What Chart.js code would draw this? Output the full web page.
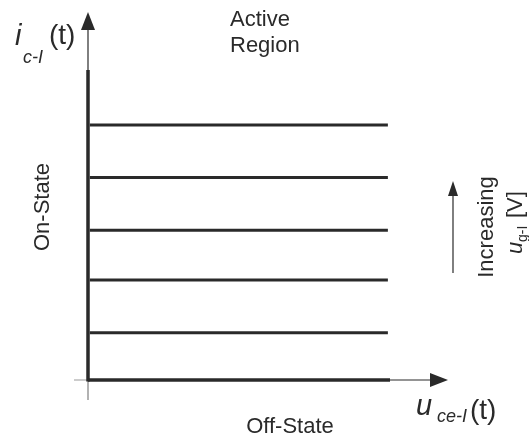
<!DOCTYPE html>
<html>
<head>
<meta charset="utf-8">
<script src="https://cdn.jsdelivr.net/npm/chart.js@4"></script>
<style>
  body { margin: 0; background: #fff; }
  #wrap { width: 529px; height: 439px; }
</style>
</head>
<body>
<div id="wrap"><canvas id="iv-chart"></canvas></div>
<script>
// collector current levels, one line per gate voltage (lowest first)
const gateLevels = [0.9, 1.9, 2.85, 3.85, 4.85];
// u_ce range the lines cover
const uceRange = [0.05, 8.33];
const regionLabels = ['Active', 'Region'];

const FONT = '"Liberation Sans", Arial, Helvetica, sans-serif';
const INK = '#2a2a2a';

const datasets = gateLevels.map(v => ({
    data: [{ x: uceRange[0], y: v }, { x: uceRange[1], y: v }],
    borderColor: INK,
    borderWidth: 3,
    pointRadius: 0,
    fill: false
}));

function line(ctx, x1, y1, x2, y2, w, col) {
    ctx.beginPath();
    ctx.lineWidth = w;
    ctx.strokeStyle = col;
    ctx.moveTo(x1, y1);
    ctx.lineTo(x2, y2);
    ctx.stroke();
}

function tri(ctx, pts) {
    ctx.beginPath();
    ctx.moveTo(pts[0][0], pts[0][1]);
    ctx.lineTo(pts[1][0], pts[1][1]);
    ctx.lineTo(pts[2][0], pts[2][1]);
    ctx.closePath();
    ctx.fillStyle = INK;
    ctx.fill();
}

function txt(ctx, s, x, y, size, italic, align) {
    ctx.font = (italic ? 'italic ' : '') + size + 'px ' + FONT;
    ctx.textAlign = align || 'left';
    ctx.fillStyle = INK;
    ctx.fillText(s, x, y);
}

const axesPlugin = {
    id: 'axesPlugin',
    afterDraw(chart) {
        const ctx = chart.ctx, a = chart.chartArea;
        const x0 = chart.scales.x.getPixelForValue(0);
        const y0 = chart.scales.y.getPixelForValue(0);
        ctx.save();

        // little stubs past the origin
        line(ctx, x0 - 14, y0, x0, y0, 1, '#999');
        line(ctx, x0, y0, x0, y0 + 20, 1.5, '#999');

        // vertical axis
        line(ctx, x0, 70, x0, y0 + 1.5, 3.5, INK);
        line(ctx, x0, a.top + 16, x0, 70, 1.2, INK);
        tri(ctx, [[x0, a.top], [x0 - 7, a.top + 18], [x0 + 7, a.top + 18]]);

        // horizontal axis
        line(ctx, x0, y0, 390, y0, 3.5, INK);
        line(ctx, 390, y0, a.right - 16, y0, 1.2, INK);
        tri(ctx, [[a.right, y0], [a.right - 18, y0 - 7], [a.right - 18, y0 + 7]]);

        // increasing-gate arrow
        line(ctx, 453, 273, 453, 194, 1.2, INK);
        tri(ctx, [[453, 181], [448, 196], [458, 196]]);

        ctx.textBaseline = 'alphabetic';
        txt(ctx, regionLabels[0], 230, 26, 22, false);
        txt(ctx, regionLabels[1], 230, 52, 22, false);
        txt(ctx, 'Off-State', 290, 433, 22, false, 'center');

        // i_c-I(t)
        txt(ctx, 'i', 15, 45, 29, true);
        txt(ctx, 'c-I', 23, 63, 18, true);
        txt(ctx, '(t)', 49, 44, 28, false);

        // u_ce-I(t)
        txt(ctx, 'u', 416, 415, 29, true);
        txt(ctx, 'ce-I', 437, 422, 18, true);
        txt(ctx, '(t)', 470, 419, 28, false);

        // rotated labels
        ctx.save();
        ctx.translate(49, 207);
        ctx.rotate(-Math.PI / 2);
        txt(ctx, 'On-State', 0, 0, 22, false, 'center');
        ctx.restore();

        ctx.save();
        ctx.translate(493, 227);
        ctx.rotate(-Math.PI / 2);
        txt(ctx, 'Increasing', 0, 0, 22, false, 'center');
        ctx.restore();

        ctx.save();
        ctx.translate(522, 254);
        ctx.rotate(-Math.PI / 2);
        txt(ctx, 'u', 0, 0, 22, true);
        txt(ctx, 'g-I', 12, 5, 14, false);
        txt(ctx, '[V]', 36, 0, 22, false);
        ctx.restore();

        ctx.restore();
    }
};

new Chart(document.getElementById('iv-chart'), {
    type: 'line',
    data: { datasets: datasets },
    options: {
        responsive: true,
        maintainAspectRatio: false,
        animation: false,
        layout: { padding: { left: 88, top: 12, right: 81, bottom: 59 } },
        plugins: { legend: { display: false }, tooltip: { enabled: false } },
        scales: {
            x: { type: 'linear', min: 0, max: 10, display: false },
            y: { type: 'linear', min: 0, max: 7, display: false }
        }
    },
    plugins: [axesPlugin]
});
</script>
</body>
</html>
